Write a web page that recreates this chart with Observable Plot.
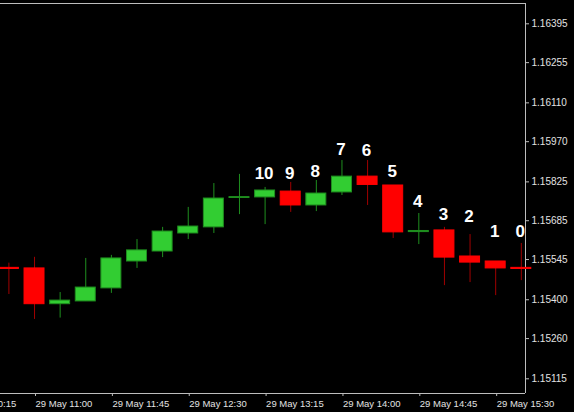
<!DOCTYPE html>
<html>
<head>
<meta charset="utf-8">
<script src="https://cdn.jsdelivr.net/npm/d3@7"></script>
<script src="https://cdn.jsdelivr.net/npm/@observablehq/plot@0.6"></script>
<style>
  html, body { margin: 0; padding: 0; background: #000; overflow: hidden; }
  svg { overflow: hidden; display: block; }
</style>
</head>
<body>
<div id="chart"></div>
<script>
// ---- data (EURUSD M15, 29 May) ----
const dateLabel = "29 May";
const times = ["10:45","11:00","11:15","11:30","11:45","12:00","12:15","12:30","12:45","13:00",
               "13:15","13:30","13:45","14:00","14:15","14:30","14:45","15:00","15:15","15:30","15:45"];
const open  = [1.15515,1.15513,1.15384,1.15394,1.15441,1.15538,1.15574,1.15639,1.15661,1.15767,
               1.15769,1.15790,1.15740,1.15787,1.15844,1.15812,1.15644,1.15650,1.15556,1.15538,1.15515];
const high  = [1.15532,1.15553,1.15426,1.15549,1.15560,1.15617,1.15661,1.15733,1.15819,1.15852,
               1.15805,1.15823,1.15830,1.15902,1.15902,1.15812,1.15711,1.15661,1.15635,1.15538,1.15603];
const low   = [1.15419,1.15329,1.15334,1.15394,1.15423,1.15513,1.15552,1.15617,1.15639,1.15707,
               1.15671,1.15715,1.15718,1.15776,1.15740,1.15621,1.15599,1.15451,1.15462,1.15415,1.15469];
const close = [1.15511,1.15384,1.15397,1.15444,1.15549,1.15578,1.15646,1.15664,1.15765,1.15770,
               1.15794,1.15740,1.15783,1.15844,1.15814,1.15643,1.15648,1.15552,1.15534,1.15513,1.15511];

const labelText  = ["10","9","8","7","6","5","4","3","2","1","0"];
const labelTime  = ["13:15","13:30","13:45","14:00","14:15","14:30","14:45","15:00","15:15","15:30","15:45"];
const labelPrice = [1.15834,1.15834,1.15841,1.15923,1.15920,1.15841,1.15733,1.15689,1.15682,1.15625,1.15628];

const yTicks = [1.16395,1.16255,1.16110,1.15970,1.15825,1.15685,1.15545,1.15400,1.15260,1.15115];
const xTickTimes = ["10:15","11:00","11:45","12:30","13:15","14:00","14:45","15:30"];

// ---- build ----
const day = Date.UTC(2018, 4, 29);
const toDate = s => { const [h, m] = s.split(":").map(Number); return new Date(day + (h * 60 + m) * 60000); };
const step = 15 * 60000;
const bars = times.map((t, i) => ({t: toDate(t), o: open[i], h: high[i], l: low[i], c: close[i]}));
const labels = labelText.map((s, i) => ({text: s, t: toDate(labelTime[i]), p: labelPrice[i]}));
const xTicks = xTickTimes.map(toDate);

const xDomain = [new Date(+bars[0].t - 0.328 * step), new Date(+bars[bars.length - 1].t + 0.164 * step)];
const yDomain = [1.15062, 1.164682];

const upFill = "#32cd32", upLine = "#1f8f1f";
const dnFill = "#ff0000", dnLine = "#a00000";
const frameColor = "#bdbdbd", textColor = "#e2e2e2";
const half = 0.39 * step;
const isUp = d => d.c >= d.o;

const chart = Plot.plot({
  width: 574,
  height: 412,
  marginLeft: 0,
  marginRight: 49,
  marginTop: 3,
  marginBottom: 19,
  style: {background: "#000", color: textColor, fontFamily: "'Liberation Sans', Arial, sans-serif", fontSize: "10px", overflow: "hidden"},
  x: {type: "utc", domain: xDomain, axis: null, label: null},
  y: {domain: yDomain, axis: null, label: null},
  color: {type: "identity"},
  marks: [
    Plot.ruleY([yDomain[1]], {stroke: frameColor}),
    Plot.ruleY([yDomain[0]], {stroke: frameColor}),
    Plot.ruleX([xDomain[1]], {stroke: frameColor}),
    Plot.axisY(yTicks, {anchor: "right", tickSize: 3, tickPadding: 3, stroke: frameColor, fill: textColor,
      tickFormat: d3.format(".5f"), fontSize: 10, label: null}),
    Plot.axisX(xTicks, {anchor: "bottom", tickSize: 3, tickPadding: 4, stroke: frameColor, fill: textColor,
      textAnchor: "start", dx: 1, fontSize: 9.5, label: null,
      tickFormat: d => `${dateLabel} ${d3.utcFormat("%H:%M")(d)}`}),
    Plot.ruleX(bars, {x: "t", y1: "l", y2: "h", stroke: d => isUp(d) ? upLine : dnLine, strokeWidth: 1}),
    Plot.rect(bars, {
      x1: d => new Date(+d.t - half), x2: d => new Date(+d.t + half),
      y1: "o", y2: "c",
      fill: d => isUp(d) ? upFill : dnFill,
      stroke: d => isUp(d) ? upLine : dnFill,
      strokeWidth: 1
    }),
    Plot.text(labels, {x: "t", y: "p", text: "text", fill: "#ffffff", fontWeight: "bold", fontSize: 17,
      lineAnchor: "bottom", dx: -1, fontFamily: "'Liberation Sans', Arial, sans-serif"})
  ]
});
document.getElementById("chart").appendChild(chart);
</script>
</body>
</html>
